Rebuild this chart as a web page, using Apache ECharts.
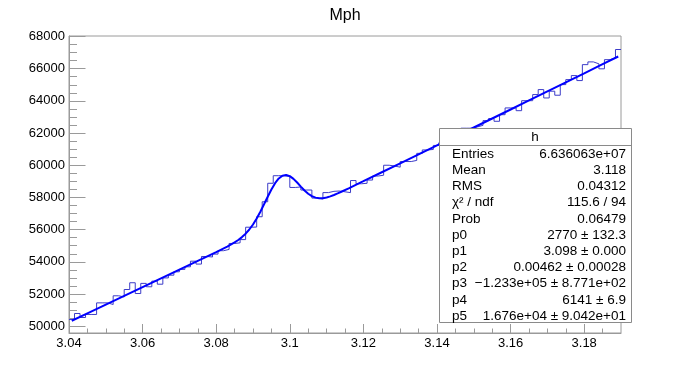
<!DOCTYPE html>
<html>
<head>
<meta charset="utf-8">
<script src="https://cdn.jsdelivr.net/npm/echarts@6/dist/echarts.min.js"></script>
<style>
html,body{margin:0;padding:0;background:#fff;}
#chart{width:690px;height:371px;}
</style>
</head>
<body>
<div id="chart"></div>
<script>
// ---- data ----
const histTitle = "Mph";
const binLow = 3.04;
const binHigh = 3.19;
const binCounts = [
  50420, 50790, 50540, 50730, 50730, 51450, 51450, 51350, 51890, 51820,
  52280, 52700, 52030, 52660, 52450, 52800, 52610, 53000, 53170, 53380,
  53530, 53690, 54040, 53860, 54330, 54300, 54480, 54690, 54770, 55140,
  55180, 55380, 56150, 56160, 56800, 57730, 58880, 59350, 59350, 59300,
  58620, 58650, 58460, 58460, 57960, 57900, 58300, 58380, 58400, 58350,
  58300, 59050, 58850, 58880, 59080, 59330, 59380, 60000, 59950, 59880,
  60230, 60230, 60300, 60740, 60950, 60980, 61230, 61400, 61500, 61750,
  61850, 62300, 62300, 62380, 62480, 62770, 62900, 62730, 63140, 63560,
  63560, 63390, 64010, 64010, 64390, 64700, 64180, 64600, 64350, 65010,
  65320, 65570, 65260, 66250, 66420, 66300, 65990, 66560, 66670, 67190
];
const fitX = [3.04075, 3.045, 3.05, 3.055, 3.06, 3.065, 3.07, 3.075, 3.08, 3.083,
  3.085, 3.086, 3.087, 3.088, 3.089, 3.09, 3.091, 3.092, 3.093, 3.094, 3.095, 3.096, 3.097,
  3.098, 3.099, 3.1, 3.101, 3.102, 3.103, 3.104, 3.105, 3.106, 3.107, 3.108, 3.109,
  3.11, 3.111, 3.112, 3.113, 3.114, 3.116, 3.12, 3.125, 3.13, 3.135, 3.14, 3.145, 3.15,
  3.155, 3.16, 3.165, 3.17, 3.175, 3.18, 3.185, 3.18925];
const fitY = [50339, 50799, 51340, 51882, 52425, 52969, 53514, 54060, 54606, 54949,
  55207, 55358, 55536, 55749, 56008, 56320, 56691, 57113, 57573, 58045, 58494, 58883, 59177,
  59351, 59397, 59323, 59154, 58925, 58673, 58433, 58231, 58080, 57988, 57948, 57956,
  57998, 58066, 58152, 58248, 58352, 58567, 59008, 59563, 60117, 60673, 61230, 61787, 62345,
  62904, 63464, 64025, 64587, 65149, 65712, 66276, 66756];
const xMajorTicks = [3.04, 3.06, 3.08, 3.10, 3.12, 3.14, 3.16, 3.18];
const xMinorTicks = [3.045, 3.05, 3.055, 3.065, 3.07, 3.075, 3.085, 3.09, 3.095, 3.105, 3.11, 3.115,
  3.125, 3.13, 3.135, 3.145, 3.15, 3.155, 3.165, 3.17, 3.175, 3.185];
const yMajorTicks = [50000, 52000, 54000, 56000, 58000, 60000, 62000, 64000, 66000, 68000];
const yMinorTicks = [50500, 51000, 51500, 52500, 53000, 53500, 54500, 55000, 55500, 56500, 57000, 57500,
  58500, 59000, 59500, 60500, 61000, 61500, 62500, 63000, 63500, 64500, 65000, 65500, 66500, 67000, 67500];
const yMin = 49578, yMax = 68029;
const statsTitle = "h";
const statsNames = ["Entries", "Mean", "RMS", "χ² / ndf", "Prob", "p0", "p1", "p2", "p3", "p4", "p5"];
const statsValues = ["6.636063e+07", "3.118", "0.04312", "115.6 / 94", "0.06479",
  "2770 ± 132.3", "3.098 ± 0.000", "0.00462 ± 0.00028", "−1.233e+05 ± 8.771e+02",
  "6141 ± 6.9", "1.676e+04 ± 9.042e+01"];

// ---- build histogram outline ----
const nBins = binCounts.length;
const bw = (binHigh - binLow) / nBins;
const histData = binCounts.map((c, i) => [binLow + i * bw, c]);
histData.push([binHigh, binCounts[nBins - 1]]);
const fitData = fitX.map((x, i) => [x, fitY[i]]);

const FONT = "Liberation Sans, Arial, Helvetica, sans-serif";
const frameColor = "#9a9a9a";
const chart = echarts.init(document.getElementById('chart'), null, {renderer: 'canvas'});

// stats box graphics
const box = {x: 439, y: 128, w: 192, h: 194};
const rowY0 = 154, rowDY = 16.2;
const SF = '13.5px ' + FONT;
const graphics = [
  {type: 'rect', z: 100, shape: {x: box.x + 0.5, y: box.y + 0.5, width: box.w, height: box.h},
   style: {fill: '#fff', stroke: '#8a8a8a', lineWidth: 1}},
  {type: 'line', z: 101, shape: {x1: box.x, y1: 145.5, x2: box.x + box.w, y2: 145.5},
   style: {stroke: '#8a8a8a', lineWidth: 1}},
  {type: 'text', z: 102, x: box.x + box.w / 2, y: 137,
   style: {text: statsTitle, font: SF, fill: '#000', align: 'center', verticalAlign: 'middle'}}
];
statsNames.forEach((n, i) => {
  graphics.push({type: 'text', z: 102, x: 452, y: rowY0 + i * rowDY,
    style: {text: n, font: SF, fill: '#000', align: 'left', verticalAlign: 'middle'}});
  graphics.push({type: 'text', z: 102, x: 626, y: rowY0 + i * rowDY,
    style: {text: statsValues[i], font: SF, fill: '#000', align: 'right', verticalAlign: 'middle'}});
});

const fmtX = v => String(parseFloat(Number(v).toFixed(3)));
const fmtY = v => String(Math.round(v));

const option = {
  animation: false,
  backgroundColor: '#fff',
  title: {text: histTitle, left: 'center', top: 3,
    textStyle: {fontFamily: FONT, fontSize: 16, fontWeight: 'normal', color: '#000'}},
  grid: {left: 69, right: 69, top: 36, bottom: 38, show: true, borderColor: frameColor, borderWidth: 1,
    backgroundColor: 'transparent'},
  xAxis: [
    {type: 'value', min: binLow, max: binHigh, gridIndex: 0, position: 'bottom',
     axisLine: {show: true, onZero: false, lineStyle: {color: frameColor}},
     axisTick: {show: true, inside: true, length: 9, customValues: xMajorTicks, lineStyle: {color: frameColor}},
     axisLabel: {show: true, customValues: xMajorTicks, formatter: fmtX, margin: 4,
       fontFamily: FONT, fontSize: 13, color: '#000'},
     splitLine: {show: false}},
    {type: 'value', min: binLow, max: binHigh, gridIndex: 0, position: 'bottom',
     axisLine: {show: false},
     axisTick: {show: true, inside: true, length: 4.5, customValues: xMinorTicks, lineStyle: {color: frameColor}},
     axisLabel: {show: false},
     splitLine: {show: false}}
  ],
  yAxis: [
    {type: 'value', min: yMin, max: yMax, gridIndex: 0, position: 'left',
     axisLine: {show: true, onZero: false, lineStyle: {color: frameColor}},
     axisTick: {show: true, inside: true, length: 16.5, customValues: yMajorTicks, lineStyle: {color: frameColor}},
     axisLabel: {show: true, customValues: yMajorTicks, formatter: fmtY, margin: 4,
       fontFamily: FONT, fontSize: 13, color: '#000'},
     splitLine: {show: false}},
    {type: 'value', min: yMin, max: yMax, gridIndex: 0, position: 'left',
     axisLine: {show: false},
     axisTick: {show: true, inside: true, length: 8, customValues: yMinorTicks, lineStyle: {color: frameColor}},
     axisLabel: {show: false},
     splitLine: {show: false}}
  ],
  series: [
    {type: 'line', name: 'hist', xAxisIndex: 0, yAxisIndex: 0, data: histData, step: 'end',
     showSymbol: false, symbol: 'none', lineStyle: {color: '#3c3cc8', width: 1}, z: 2},
    {type: 'line', name: 'fit', xAxisIndex: 0, yAxisIndex: 0, data: fitData, smooth: false,
     showSymbol: false, symbol: 'none', lineStyle: {color: '#0000ff', width: 2}, z: 3}
  ],
  graphic: graphics
};
chart.setOption(option);
</script>
</body>
</html>
